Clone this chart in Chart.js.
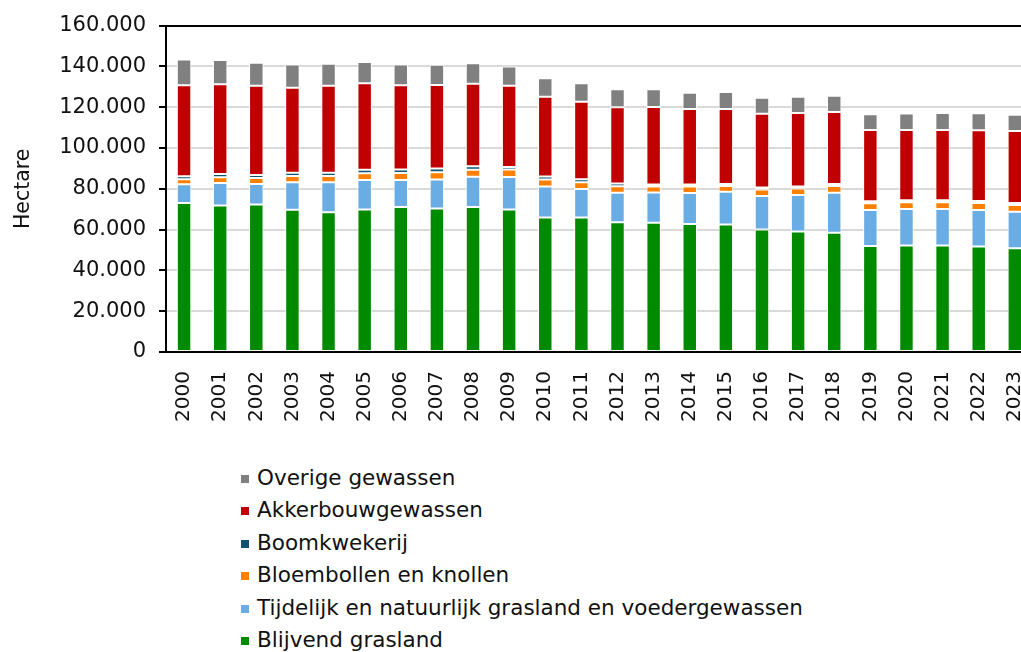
<!DOCTYPE html>
<html lang="nl">
<head>
<meta charset="utf-8">
<title>Landbouwareaal</title>
<script src="https://cdn.jsdelivr.net/npm/chart.js@4/dist/chart.umd.min.js"></script>
<style>
    html, body {
        margin: 0;
        padding: 0;
        background: #fff;
        overflow: hidden;
    }
    .wrap {
        position: relative;
        width: 1021px;
        height: 652px;
        overflow: hidden;
        font-family: "DejaVu Sans", Verdana, sans-serif;
    }
    #areaChart {
        position: absolute;
        left: 0;
        top: 0;
    }
    #legend {
        position: absolute;
        left: 241px;
        top: 462px;
        margin: 0;
        padding: 0;
        list-style: none;
    }
    #legend li {
        height: 32.4px;
        line-height: 32.4px;
        font-size: 21.5px;
        color: #111;
        white-space: nowrap;
    }
    #legend span {
        display: inline-block;
        width: 8px;
        height: 8px;
        margin-right: 8px;
        vertical-align: 2px;
    }
</style>
</head>
<body>
<div class="wrap">
    <canvas id="areaChart" width="1058" height="440"></canvas>
    <ul id="legend"></ul>
</div>
<script>
// Data (hectare per jaar)
const years = ['2000', '2001', '2002', '2003', '2004', '2005', '2006', '2007', '2008', '2009', '2010', '2011',
    '2012', '2013', '2014', '2015', '2016', '2017', '2018', '2019', '2020', '2021', '2022', '2023'];

const blijvendGrasland = [73100, 71800, 72300, 69700, 68500, 69800, 71100, 70300, 71100, 69800, 65900, 65900,
    63600, 63300, 62800, 62500, 60000, 59100, 58400, 52000, 52200, 52200, 51700, 50900];
const tijdelijkGrasland = [9100, 11100, 10100, 13500, 14700, 14500, 13200, 14200, 14800, 16000, 15200, 14000,
    14500, 14900, 15200, 16000, 16500, 17900, 19700, 17600, 17900, 17900, 17900, 17800];
const bloembollen = [2500, 2800, 2900, 3100, 3100, 3300, 3400, 3600, 3400, 3600, 3400, 3300,
    3100, 2900, 3100, 2900, 3100, 3100, 3300, 3300, 3300, 3300, 3400, 3400];
const boomkwekerij = [1400, 1600, 1500, 1600, 1600, 1700, 1800, 1900, 1800, 1300, 1500, 1500,
    1400, 1000, 1000, 1000, 1000, 1000, 1000, 1000, 1000, 1000, 1000, 1000];
const akkerbouw = [44700, 44000, 43700, 41600, 42600, 42500, 41300, 40900, 40400, 39800, 39100, 38000,
    37400, 38000, 37000, 36700, 36200, 36000, 35200, 34900, 34400, 34400, 34700, 35200];
const overige = [12600, 11800, 11300, 11400, 10800, 10400, 10100, 9900, 10000, 9500, 9100, 9100,
    8800, 8700, 8000, 8300, 7800, 8000, 8000, 7700, 8100, 8300, 8300, 8000];

const yTicks = [0, 20000, 40000, 60000, 80000, 100000, 120000, 140000, 160000];

const fontFamily = '"DejaVu Sans", Verdana, sans-serif';

// Thousands with a dot, as in Dutch notation
const formatNumber = (value) => String(value).replace(/\B(?=(\d{3})+(?!\d))/g, '.');

const makeSet = (label, data, color) => ({
    label: label,
    data: data,
    backgroundColor: color,
    borderColor: '#ffffff',
    borderWidth: 1,
    borderSkipped: false,
    categoryPercentage: 1,
    barPercentage: 0.4
});

const datasets = [
    makeSet('Blijvend grasland', blijvendGrasland, '#008a00'),
    makeSet('Tijdelijk en natuurlijk grasland en voedergewassen', tijdelijkGrasland, '#6aade4'),
    makeSet('Bloembollen en knollen', bloembollen, '#ff8000'),
    makeSet('Boomkwekerij', boomkwekerij, '#0f5373'),
    makeSet('Akkerbouwgewassen', akkerbouw, '#c00000'),
    makeSet('Overige gewassen', overige, '#808080')
];

const ctx = document.getElementById('areaChart').getContext('2d');

const chart = new Chart(ctx, {
    type: 'bar',
    data: {
        labels: years,
        datasets: datasets
    },
    options: {
        responsive: false,
        animation: false,
        devicePixelRatio: 1,
        layout: {
            padding: { top: 24, right: 8, left: 11, bottom: 0 }
        },
        plugins: {
            legend: { display: false },
            tooltip: { enabled: false }
        },
        scales: {
            x: {
                stacked: true,
                grid: { display: false, drawTicks: false },
                border: { display: true, color: '#000', width: 2 },
                ticks: {
                    color: '#111',
                    font: { family: fontFamily, size: 20 },
                    minRotation: 90,
                    maxRotation: 90,
                    autoSkip: false,
                    padding: 19
                },
                afterFit: (scale) => { scale.height = 88; }
            },
            y: {
                stacked: true,
                min: 0,
                max: 160000,
                afterBuildTicks: (scale) => {
                    scale.ticks = yTicks.map(v => ({ value: v }));
                },
                afterFit: (scale) => { scale.width = 155; },
                border: { display: true, color: '#000', width: 2 },
                grid: {
                    color: (c) => (c.tick && c.tick.value === 160000 ? '#000' : '#d9d9d9'),
                    lineWidth: 2,
                    tickColor: '#000',
                    tickLength: 7,
                    tickWidth: 2
                },
                ticks: {
                    color: '#111',
                    font: { family: fontFamily, size: 21 },
                    padding: 13,
                    callback: (value) => formatNumber(value)
                },
                title: {
                    display: true,
                    text: 'Hectare',
                    color: '#111',
                    font: { family: fontFamily, size: 20.5 },
                    padding: { top: 0, bottom: 0 }
                }
            }
        }
    }
});

// Legend below the chart, top item first
const legend = document.getElementById('legend');
datasets.slice().reverse().forEach(ds => {
    const li = document.createElement('li');
    const box = document.createElement('span');
    box.style.background = ds.backgroundColor;
    li.appendChild(box);
    li.appendChild(document.createTextNode(ds.label));
    legend.appendChild(li);
});
</script>
</body>
</html>
